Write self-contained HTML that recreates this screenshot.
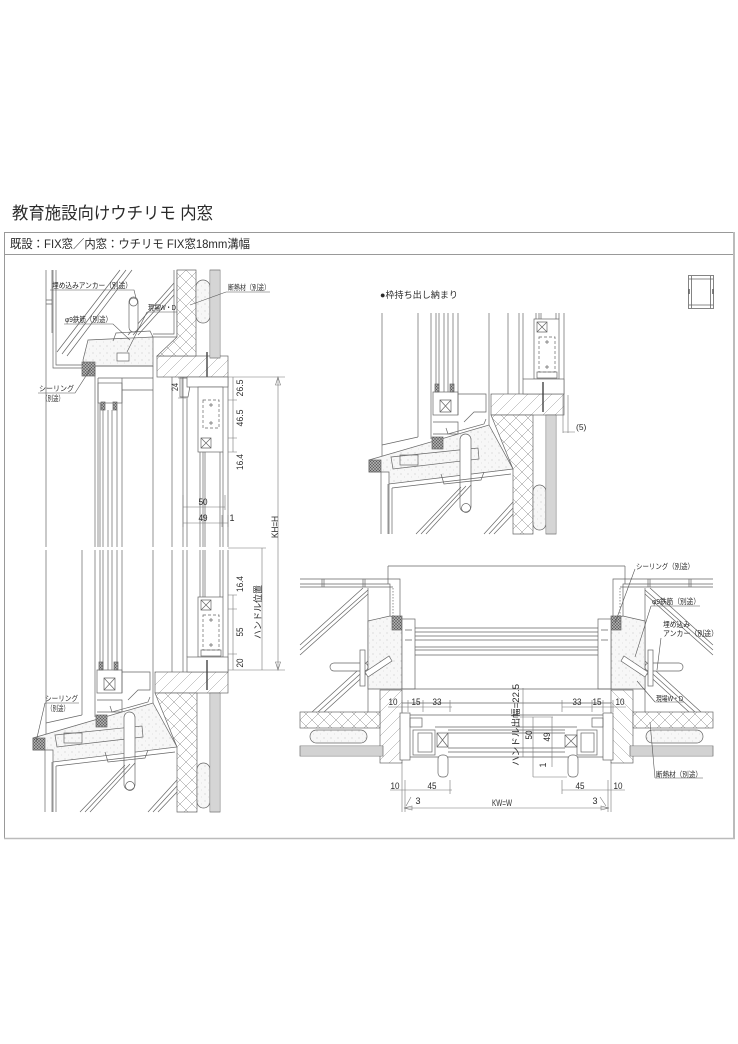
<!DOCTYPE html>
<html><head><meta charset="utf-8"><style>
html,body{margin:0;padding:0;background:#fff;}
svg{display:block;}
text{font-family:"Liberation Sans","Noto Sans CJK JP",sans-serif;fill:#2a2a2a;stroke:none;}
</style></head><body>
<svg width="738" height="1044" viewBox="0 0 738 1044" xmlns="http://www.w3.org/2000/svg">
<defs>
<pattern id="xh" width="12" height="12" patternUnits="userSpaceOnUse"><rect width="12" height="12" fill="#fff"/><path d="M0,0L12,12M12,0L0,12" stroke="#8a8a8a" stroke-width="0.5"/></pattern>
<pattern id="dh" width="12" height="12" patternUnits="userSpaceOnUse"><rect width="12" height="12" fill="#fff"/><path d="M0,12L12,0M-3,3L3,-3M9,15L15,9" stroke="#999" stroke-width="0.5"/></pattern>
<pattern id="dot" width="7" height="7" patternUnits="userSpaceOnUse"><rect width="7" height="7" fill="#f7f7f7"/><circle cx="2" cy="3" r="0.5" fill="#b5b5b5"/><circle cx="5.5" cy="6" r="0.4" fill="#c5c5c5"/></pattern>
<pattern id="seal" width="3" height="3" patternUnits="userSpaceOnUse"><rect width="3" height="3" fill="#aaa"/><path d="M0,0L3,3M3,0L0,3" stroke="#555" stroke-width="0.5"/></pattern>
<clipPath id="cTR"><rect x="366" y="313" width="206" height="222"/></clipPath>

<g id="lowL" stroke="#666" stroke-width="0.7" fill="none">
 <path d="M46,550V738 M82,550V715 M46,723L82,715 M95,550V717 M100,550V670 M103,550V670 M108,550V670 M112,550V670 M117,550V670 M122,550V693 M153,550V703 M172,550V672 M183,550V672 M187,550V657 M228,550V672"/>
 <rect x="97" y="670" width="25" height="23"/>
 <path d="M104,678L115,690M115,678L104,690M104,678H115V690H104Z"/>
 <rect x="99" y="662" width="4" height="8" fill="url(#seal)"/>
 <rect x="114" y="662" width="4" height="8" fill="url(#seal)"/>
 <path d="M122,672H150V690H138L128,700 M97,700H122V712H97"/>
 <rect x="155" y="672" width="73" height="21" fill="url(#dh)"/>
 <polygon points="155,693 197,693 197,812 177,812 177,747" fill="url(#xh)"/>
 <rect x="197" y="763" width="13" height="45" rx="6.5" fill="url(#dot)"/>
 <rect x="210" y="693" width="10" height="119" fill="#fff"/>
 <path d="M212,693V812M214,693V812M216,693V812M218,693V812" stroke="#888"/>
 <rect x="198" y="597" width="25" height="60" fill="#fff"/>
 <path d="M201,600H211V610H201ZM201,600L211,610M211,600L201,610"/>
 <rect x="203" y="615" width="16" height="35" stroke-dasharray="3,2"/>
 <path d="M209,620h4M211,618v4M209,645h4M211,643v4"/>
 <rect x="201" y="650" width="20" height="6"/>
 <rect x="187" y="657" width="41" height="15" fill="#fff"/>
 <path d="M200,550V597M203,550V597M205,550V597M220,550V597M223,550V597"/>
 <path d="M207,660V690" stroke="#444" stroke-width="1.4"/>
 <polygon points="33,738 153,703 177,747 53,762 53,750 33,750" fill="url(#dot)"/>
 <rect x="33" y="738" width="12" height="12" fill="url(#seal)"/>
 <rect x="96" y="715" width="11" height="12" fill="url(#seal)"/>
 <polygon points="55,735 142,726 143,737 57,747"/>
 <rect x="64" y="733" width="18" height="10"/>
 <rect x="124" y="712" width="11" height="78" rx="5.5" fill="#fff"/>
 <circle cx="130" cy="786" r="4.5"/>
 <path d="M105,752L108,762L145,758L148,750 M110,706L112,712L148,702L150,697"/>
 <path d="M53,762V812 M56,766V812 M56,766L175,752 M45,750V812 M52,762V812"/>
 <path d="M80,812L125,765M85,812L130,764M90,812L135,763M148,812L177,780M153,812L177,786M158,812L177,792"/>
</g>

<g id="planL" stroke="#666" stroke-width="0.7" fill="none">
 <path d="M300,579H400V620 M300,584H390V617 M300,587H393 M388,566H506.5 M388,566V584"/>
 <path d="M393,588V690" stroke-dasharray="1.5,1.5"/>
 <path d="M322,579V587M324,579V587M363,579V587M365,579V587"/>
 <path d="M368,588V712"/>
 <path d="M300,645L363,588M300,650L368,590M300,655L368,594M312,712L368,661M318,712L368,667M324,712L368,672"/>
 <polygon points="368,621 390,616 402,619 402,689 368,689" fill="url(#dot)"/>
 <rect x="392" y="616" width="10" height="14" fill="url(#seal)"/>
 <rect x="330" y="663" width="38" height="8" rx="4" fill="#fff"/>
 <rect x="360" y="650" width="5" height="36" fill="#fff"/>
 <polygon points="365,672 389,656 392,661 368,677" fill="#fff"/>
 <rect x="380" y="690" width="22" height="73" fill="url(#dh)"/>
 <rect x="300" y="712" width="80" height="16" fill="url(#xh)"/>
 <rect x="310" y="730" width="57" height="13" rx="6.5" fill="url(#dot)"/>
 <rect x="300" y="746" width="83" height="10" fill="#fff"/>
 <path d="M300,748H383M300,750H383M300,752H383M300,754H383" stroke="#888"/>
</g>
</defs>

<rect width="738" height="1044" fill="#fff"/>

<text x="12" y="219" font-size="17" textLength="201" lengthAdjust="spacingAndGlyphs">教育施設向けウチリモ 内窓</text>
<rect x="4.5" y="232.5" width="729" height="606" fill="none" stroke="#999" stroke-width="1"/>
<line x1="4.5" y1="254.5" x2="733.5" y2="254.5" stroke="#999"/>
<line x1="734" y1="232" x2="734" y2="839" stroke="#bbb" stroke-width="2"/>
<line x1="4" y1="838.5" x2="735" y2="838.5" stroke="#bbb" stroke-width="1.5"/>
<text x="10" y="248" font-size="12" textLength="240" lengthAdjust="spacingAndGlyphs">既設：FIX窓／内窓：ウチリモ FIX窓18mm溝幅</text>

<!-- icon -->
<g stroke="#666" stroke-width="0.8" fill="none">
 <rect x="688.5" y="275.5" width="25" height="33"/>
 <path d="M691.5,276V308M710.5,276V308M689,279H713M689,305H713"/>
 <path d="M689,289v5M713,289v5" stroke-width="1.6"/>
</g>

<!-- LEFT SECTION: top part -->
<g stroke="#666" stroke-width="0.7" fill="none">
 <path d="M46,270V547 M52,270V333 M46,300h6M46,304h6"/>
 <path d="M53,270V368H83 M56,270V365H83"/>
 <path d="M177,270V337H153 M174,270V334H153"/>
 <path d="M57,352L120,270M62,354L126,270M67,356L132,270M128,335L174,283M133,335L174,289M138,335L174,295"/>
 <polygon points="88,340 153,337 153,366 84,366 83,360" fill="url(#dot)"/>
 <rect x="82" y="362" width="13" height="14" fill="url(#seal)"/>
 <rect x="129" y="297" width="9" height="35" rx="4.5" fill="#fff"/>
 <circle cx="133.5" cy="302" r="4"/>
 <path d="M113,341L116,333L150,331L153,337"/>
 <rect x="117" y="353" width="12" height="8" fill="#fff"/>
 <path d="M95,366H153 M95,366V547 M98,378H153 M98,378V547 M122,378V547 M122,390H153 M153,366V547 M172,377V547 M183,377V547 M187,397V547 M228,377V547"/>
 <rect x="98" y="383" width="24" height="20"/>
 <rect x="101" y="402" width="4" height="8" fill="url(#seal)"/>
 <rect x="113" y="402" width="4" height="8" fill="url(#seal)"/>
 <path d="M100,403V547M103,410V547M108,410V547M112,410V547M117,410V547"/>
 <rect x="157" y="356" width="71" height="21" fill="url(#dh)"/>
 <path d="M207,352V380" stroke="#444" stroke-width="1.4"/>
 <polygon points="177,270 196,270 196,356 157,356 177,337" fill="url(#xh)"/>
 <rect x="196" y="280" width="14" height="43" rx="7" fill="url(#dot)"/>
 <rect x="210" y="270" width="10" height="88" fill="#fff"/>
 <path d="M212,270V358M214,270V358M216,270V358M218,270V358" stroke="#888"/>
 <path d="M180,378H196V384L190,386L188,397H180Z"/>
 <rect x="187" y="377" width="41" height="10" fill="#fff"/>
 <rect x="198" y="387" width="25" height="65" fill="#fff"/>
 <rect x="203" y="400" width="16" height="28" stroke-dasharray="3,2"/>
 <path d="M209,405h4M211,403v4M209,423h4M211,421v4"/>
 <path d="M201,438H211V448H201ZM201,438L211,448M211,438L201,448"/>
 <path d="M200,452V547M203,452V547M205,452V547M220,452V547M223,452V547"/>
</g>

<!-- LEFT SECTION: lower part -->
<use href="#lowL"/>

<!-- left section labels & leaders -->
<g stroke="#555" stroke-width="0.6" fill="none">
 <path d="M50,290H134L136,298"/>
 <path d="M147,312H177M147,312L127,352"/>
 <path d="M64,324H113L130,340"/>
 <path d="M226,292H270M226,292L190,305"/>
 <path d="M38,393H75L91,368"/>
 <path d="M45,703H79M45,703L36,742"/>
</g>
<g font-size="7.5">
 <text x="52" y="288" textLength="80" lengthAdjust="spacingAndGlyphs">埋め込みアンカー（別途）</text>
 <text x="148" y="310" textLength="28" lengthAdjust="spacingAndGlyphs">現場W・D</text>
 <text x="65" y="322" textLength="47" lengthAdjust="spacingAndGlyphs">φ9鉄筋（別途）</text>
 <text x="228" y="290" textLength="42" lengthAdjust="spacingAndGlyphs">断熱材（別途）</text>
 <text x="39" y="391" textLength="35" lengthAdjust="spacingAndGlyphs">シーリング</text>
 <text x="42" y="401" textLength="22" lengthAdjust="spacingAndGlyphs">（別途）</text>
 <text x="45" y="701" textLength="33" lengthAdjust="spacingAndGlyphs">シーリング</text>
 <text x="47" y="711" textLength="22" lengthAdjust="spacingAndGlyphs">（別途）</text>
</g>

<!-- left section dimensions -->
<g stroke="#777" stroke-width="0.6" fill="none">
 <path d="M228,377H285 M228,400H237 M228,438H237 M228,452H237 M233,377V452"/>
 <path d="M228,548H266 M262,548V670"/>
 <path d="M228,595H237 M228,609H237 M228,654H237 M228,670H285 M233,595V670"/>
 <path d="M278,377V670"/>
 <path d="M278,377L275.5,385H280.5Z M278,670L275.5,662H280.5Z"/>
 <path d="M182,378V398 M178,378H186 M178,398H186"/>
 <path d="M183,495V527 M225,495V510 M183,507H225 M183,523H228 M222,515V527 M228,515V527"/>
</g>
<g font-size="9">
 <text transform="translate(240,388) rotate(-90)" text-anchor="middle" y="3" textLength="17" lengthAdjust="spacingAndGlyphs">26.5</text>
 <text transform="translate(240,418) rotate(-90)" text-anchor="middle" y="3" textLength="17" lengthAdjust="spacingAndGlyphs">46.5</text>
 <text transform="translate(240,462) rotate(-90)" text-anchor="middle" y="3" textLength="16" lengthAdjust="spacingAndGlyphs">16.4</text>
 <text transform="translate(175,387) rotate(-90)" text-anchor="middle" y="3" textLength="8" lengthAdjust="spacingAndGlyphs">24</text>
 <text x="203" y="505" text-anchor="middle" textLength="9" lengthAdjust="spacingAndGlyphs">50</text>
 <text x="203" y="521" text-anchor="middle" textLength="9" lengthAdjust="spacingAndGlyphs">49</text>
 <text x="232" y="521" text-anchor="middle">1</text>
 <text transform="translate(275,527) rotate(-90)" text-anchor="middle" y="3" textLength="22" lengthAdjust="spacingAndGlyphs">KH=H</text>
 <text transform="translate(240,584) rotate(-90)" text-anchor="middle" y="3" textLength="16" lengthAdjust="spacingAndGlyphs">16.4</text>
 <text transform="translate(240,632) rotate(-90)" text-anchor="middle" y="3" textLength="9" lengthAdjust="spacingAndGlyphs">55</text>
 <text transform="translate(240,663) rotate(-90)" text-anchor="middle" y="3" textLength="9" lengthAdjust="spacingAndGlyphs">20</text>
 <text transform="translate(258,612) rotate(-90)" text-anchor="middle" y="3" textLength="54" lengthAdjust="spacingAndGlyphs">ハンドル位置</text>
</g>

<!-- TOP RIGHT DETAIL -->
<text x="380" y="298" font-size="9" textLength="78" lengthAdjust="spacingAndGlyphs">●枠持ち出し納まり</text>
<g clip-path="url(#cTR)">
 <use href="#lowL" transform="translate(336,-278)"/>
</g>
<g stroke="#777" stroke-width="0.6" fill="none">
 <path d="M563,395V433 M568,395V433 M563,432H575"/>
</g>
<text x="576" y="430" font-size="8.5">(5)</text>

<!-- PLAN VIEW -->
<use href="#planL"/>
<use href="#planL" transform="matrix(-1,0,0,1,1013,0)"/>
<g stroke="#666" stroke-width="0.7" fill="none">
 <rect x="402" y="619" width="13" height="70" fill="#fff"/>
 <rect x="598" y="619" width="13" height="70" fill="#fff"/>
 <path d="M405,630h7M405,640h7M601,630h7M601,640h7"/>
 <path d="M415,628H598M415,632H598M415,636H598M415,640H598M415,647H598M415,650H598M415,655H598M402,689H611M402,703H611M402,715H611"/>
 <rect x="400" y="713" width="10" height="47" fill="#fff"/>
 <rect x="603" y="713" width="10" height="47" fill="#fff"/>
 <rect x="410" y="718" width="12" height="9"/>
 <rect x="413" y="730" width="22" height="25" fill="#fff"/>
 <rect x="418" y="733" width="14" height="19"/>
 <path d="M437,733H448V747H437ZM437,733L448,747M448,733L437,747"/>
 <rect x="592" y="718" width="11" height="9"/>
 <rect x="577" y="730" width="20" height="25" fill="#fff"/>
 <rect x="581" y="733" width="13" height="19"/>
 <path d="M565,735H577V747H565ZM565,735L577,747M577,735L565,747"/>
 <path d="M435,727H577M448,730H565M448,733H565M448,748H565M448,752H565M410,757H603"/>
 <rect x="438" y="755" width="10" height="22" rx="4" fill="#fff"/>
 <rect x="568" y="755" width="10" height="22" rx="4" fill="#fff"/>
</g>
<!-- plan dims -->
<g stroke="#777" stroke-width="0.6" fill="none">
 <path d="M388,707H452 M402,700V712 M408,700V712 M423,700V712 M450,700V712"/>
 <path d="M562,707H626 M562,700V712 M592,700V712 M603,700V712 M613,700V712"/>
 <path d="M390,790H452 M402,762V812 M405,780V812 M450,780V794"/>
 <path d="M562,790H625 M611,762V812 M608,780V812 M562,780V794"/>
 <path d="M404,808H609 M404,808L412,806V810Z M609,808L601,806V810Z"/>
 <path d="M411,797L406,806 M600,797L606,806"/>
 <path d="M520,717H553 M533,717V777 M552,717V767 M533,757H552 M533,777H567 M523,688V757"/>
</g>
<g font-size="9">
 <text x="393" y="705" text-anchor="middle" textLength="9" lengthAdjust="spacingAndGlyphs">10</text>
 <text x="416" y="705" text-anchor="middle" textLength="9" lengthAdjust="spacingAndGlyphs">15</text>
 <text x="437" y="705" text-anchor="middle" textLength="9" lengthAdjust="spacingAndGlyphs">33</text>
 <text x="577" y="705" text-anchor="middle" textLength="9" lengthAdjust="spacingAndGlyphs">33</text>
 <text x="597" y="705" text-anchor="middle" textLength="9" lengthAdjust="spacingAndGlyphs">15</text>
 <text x="620" y="705" text-anchor="middle" textLength="9" lengthAdjust="spacingAndGlyphs">10</text>
 <text x="395" y="789" text-anchor="middle" textLength="9" lengthAdjust="spacingAndGlyphs">10</text>
 <text x="432" y="789" text-anchor="middle" textLength="9" lengthAdjust="spacingAndGlyphs">45</text>
 <text x="580" y="789" text-anchor="middle" textLength="9" lengthAdjust="spacingAndGlyphs">45</text>
 <text x="618" y="789" text-anchor="middle" textLength="9" lengthAdjust="spacingAndGlyphs">10</text>
 <text x="418" y="804" text-anchor="middle">3</text>
 <text x="595" y="804" text-anchor="middle">3</text>
 <text x="502" y="806" text-anchor="middle" textLength="20" lengthAdjust="spacingAndGlyphs">KW=W</text>
 <text transform="translate(516,725) rotate(-90)" text-anchor="middle" y="3" textLength="82" lengthAdjust="spacingAndGlyphs">ハンドル出幅=22.5</text>
 <text transform="translate(529,735) rotate(-90)" text-anchor="middle" y="3" textLength="9" lengthAdjust="spacingAndGlyphs">50</text>
 <text transform="translate(547,737) rotate(-90)" text-anchor="middle" y="3" textLength="9" lengthAdjust="spacingAndGlyphs">49</text>
 <text transform="translate(543,765) rotate(-90)" text-anchor="middle" y="3">1</text>
</g>
<!-- plan labels -->
<g stroke="#555" stroke-width="0.6" fill="none">
 <path d="M635,569L615,623"/>
 <path d="M651,606H700 M651,606L635,657"/>
 <path d="M661,638L657,670"/>
 <path d="M655,702H684 M655,702L637,681"/>
 <path d="M655,778H703 M655,778L650,722"/>
</g>
<g font-size="7.5">
 <text x="636" y="569" textLength="58" lengthAdjust="spacingAndGlyphs">シーリング（別途）</text>
 <text x="652" y="604" textLength="48" lengthAdjust="spacingAndGlyphs">φ9鉄筋（別途）</text>
 <text x="663" y="627" textLength="27" lengthAdjust="spacingAndGlyphs">埋め込み</text>
 <text x="663" y="636" textLength="55" lengthAdjust="spacingAndGlyphs">アンカー（別途）</text>
 <text x="656" y="701" textLength="27" lengthAdjust="spacingAndGlyphs">現場W・D</text>
 <text x="656" y="777" textLength="46" lengthAdjust="spacingAndGlyphs">断熱材（別途）</text>
</g>
</svg>
</body></html>
